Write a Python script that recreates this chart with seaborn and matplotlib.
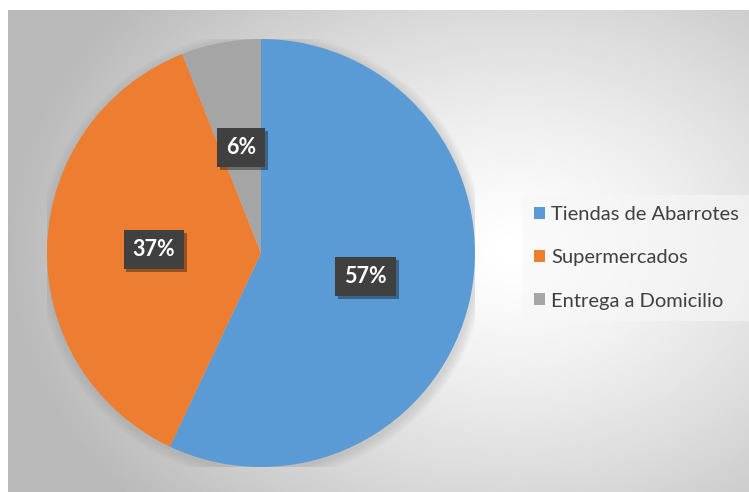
import numpy as np
import matplotlib
matplotlib.use("Agg")
import matplotlib.pyplot as plt
import matplotlib.patheffects as pe
from matplotlib.patches import Patch
import seaborn as sns

sns.set_style("white")
plt.rcParams["font.family"] = ["Lato", "DejaVu Sans"]

categories = ["Tiendas de Abarrotes", "Supermercados", "Entrega a Domicilio"]
shares = [57, 37, 6]
colors = ["#5B9BD5", "#ED7D31", "#A5A5A5"]

W, H = 749, 492
fig = plt.figure(figsize=(W / 100, H / 100), dpi=100)
fig.patch.set_facecolor("white")

# radial grey background panel
bg = fig.add_axes([8 / W, 0, 1 - 8 / W, (H - 10) / H])
bg.set_axis_off()
xs = np.linspace(8, W, 400)
ys = np.linspace(10, H, 300)
X, Y = np.meshgrid(xs, ys)
d = np.sqrt(((X - 515) / 420) ** 2 + ((Y - 250) / 320) ** 2)
shade = 1.0 - 0.27 * np.clip(d, 0, 1.2) ** 1.3 / 1.2 ** 1.3
bg.imshow(shade, cmap="gray", vmin=0, vmax=1, aspect="auto",
          extent=[0, 1, 0, 1], interpolation="bilinear")
bg.set_xlim(0, 1)
bg.set_ylim(0, 1)

# pie axes
cx, cy, r = 261, 253, 214
ax = fig.add_axes([(cx - r) / W, (H - cy - r) / H, 2 * r / W, 2 * r / H])
ax.set_axis_off()

# soft shadow under the pie
for k in range(8):
    circ = plt.Circle((0.005, -0.012), 1.0 + 0.006 * (8 - k), color="#808080",
                      alpha=0.03, lw=0)
    ax.add_patch(circ)

wedges, texts, autotexts = ax.pie(
    shares, colors=colors, startangle=90, counterclock=False,
    radius=1.0, autopct=lambda p: f"{p:.0f}%", pctdistance=0.5,
    wedgeprops=dict(linewidth=0),
    textprops=dict(color="white", fontsize=15.5, fontweight="bold"),
)
for t in autotexts:
    t.set_bbox(dict(boxstyle="square,pad=0.42", facecolor="#404040",
                    edgecolor="none",
                    path_effects=[pe.SimplePatchShadow(offset=(2, -2),
                                                       shadow_rgbFace="#000000",
                                                       alpha=0.35),
                                  pe.Normal()]))
ax.set_xlim(-1.0, 1.0)
ax.set_ylim(-1.0, 1.0)

handles = [Patch(facecolor=c, edgecolor="none") for c in colors]
leg = fig.legend(handles, categories, loc="upper left",
                 bbox_to_anchor=(513 / W, 1 - 185 / H),
                 frameon=True, fontsize=14.5, handlelength=0.55, handleheight=0.55,
                 handletextpad=0.3, labelspacing=1.3, borderpad=0.55,
                 labelcolor="#404040")
frame = leg.get_frame()
frame.set_facecolor("#f7f7f7")
frame.set_alpha(0.6)
frame.set_edgecolor("none")
frame.set_boxstyle("square,pad=0")

fig.savefig("out.png", dpi=100, facecolor=fig.get_facecolor())
